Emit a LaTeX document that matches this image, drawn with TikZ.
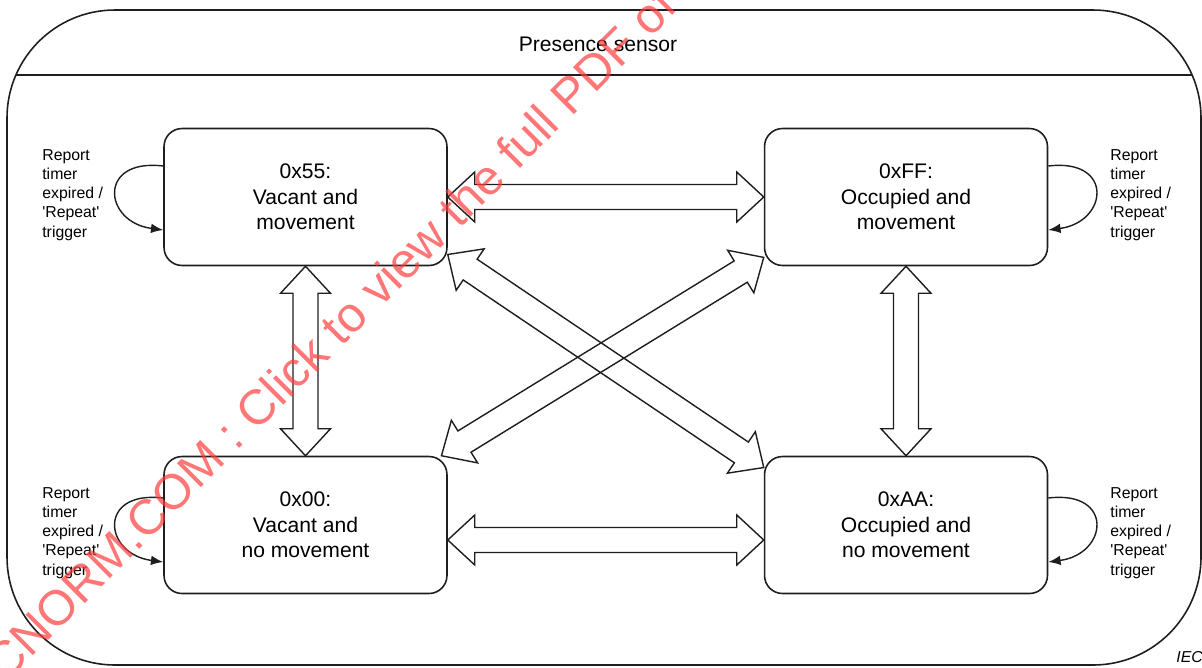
\documentclass[tikz,border=0pt]{standalone}
\usepackage{fontspec}
\setmainfont{Liberation Sans}
\usetikzlibrary{calc,arrows.meta}

\definecolor{linegray}{RGB}{30,30,30}
\definecolor{wmred}{RGB}{255,60,60}

\tikzset{
  state/.style={draw=linegray, line width=0.9pt, rounded corners=0.36cm,
    minimum width=5.66cm, minimum height=2.74cm, align=center, inner sep=0pt,
    font=\fontsize{12}{14.4}\selectfont},
  looplabel/.style={anchor=west, align=left, inner sep=0pt,
    font=\fontsize{9}{10.9}\selectfont},
  selfloop/.style={draw=linegray, line width=0.8pt, -{Latex[length=7pt,width=5.5pt]}},
  blockarrow/.style={draw=linegray, line width=0.8pt, line join=miter},
}

% hollow double-headed arrow from tip #1 to tip #2
\newcommand{\dblarrow}[2]{%
  \draw[blockarrow] let \p1=($(#2)-(#1)$), \n1={atan2(\y1,\x1)},
      \n2={veclen(\x1,\y1)-30.72pt} in
    (#1) -- ++(\n1+42.8:0.736cm) -- ++(\n1-90:0.25cm)
    -- ++(\n1:{\n2*1pt}) -- ++(\n1+90:0.25cm)
    -- ++(\n1-42.8:0.736cm) -- ++(\n1-137.2:0.736cm)
    -- ++(\n1+90:0.25cm) -- ++(\n1+180:{\n2*1pt})
    -- ++(\n1-90:0.25cm) -- cycle;%
}

\newcommand{\rpt}{Report\\timer\\expired /\\\textquotesingle Repeat\textquotesingle\\trigger}

\begin{document}
\begin{tikzpicture}[x=0.02cm,y=-0.02cm]
\useasboundingbox (0,0) rectangle (1202,667);

% outer frame
\draw[linegray, line width=0.9pt, rounded corners=2.16cm] (7,10) rectangle (1201,665);
\draw[linegray, line width=0.9pt] (16,75) -- (1192,75);
\node[font=\fontsize{12}{14.4}\selectfont] (title) at (598,44) {Presence sensor};

% states
\node[state] (s55) at (305.5,197) {0x55:\\Vacant and\\movement};
\node[state] (sFF) at (906,197) {0xFF:\\Occupied and\\movement};
\node[state] (s00) at (305.5,525) {0x00:\\Vacant and\\no movement};
\node[state] (sAA) at (906,525) {0xAA:\\Occupied and\\no movement};

% self loops
\draw[selfloop] ([yshift=0.62cm]s55.west) .. controls +(-66,-8) and +(-60,-8) .. ([yshift=-0.66cm]s55.west);
\draw[selfloop] ([yshift=0.62cm]sFF.east) .. controls +(66,-8) and +(60,-8) .. ([yshift=-0.66cm]sFF.east);
\draw[selfloop] ([yshift=0.54cm]s00.west) .. controls +(-66,-8) and +(-60,-8) .. ([yshift=-0.74cm]s00.west);
\draw[selfloop] ([yshift=0.54cm]sAA.east) .. controls +(66,-8) and +(60,-8) .. ([yshift=-0.74cm]sAA.east);

\node[looplabel] (l55) at (42,195) {\rpt};
\node[looplabel] (lFF) at (1110,195) {\rpt};
\node[looplabel] (l00) at (42,533) {\rpt};
\node[looplabel] (lAA) at (1110,533) {\rpt};

% transitions
\dblarrow{s55.east}{sFF.west}
\dblarrow{[yshift=-0.3cm]s00.east}{[yshift=-0.3cm]sAA.west}
\dblarrow{s55.south}{s00.north}
\dblarrow{sFF.south}{sAA.north}
\dblarrow{s55.-22.5}{sAA.158}
\dblarrow{s00.27}{sFF.203}

\node[anchor=west, inner sep=0pt, font=\fontsize{9}{10}\selectfont\itshape] (iec) at (1176,657) {IEC};

% watermark
\node[text=wmred, text opacity=0.7, rotate=45, inner sep=0pt,
  font=\fontsize{28}{28}\selectfont] (wm) at (330,334) {CNORM.COM : Click to view the full PDF of};
\end{tikzpicture}
\end{document}
